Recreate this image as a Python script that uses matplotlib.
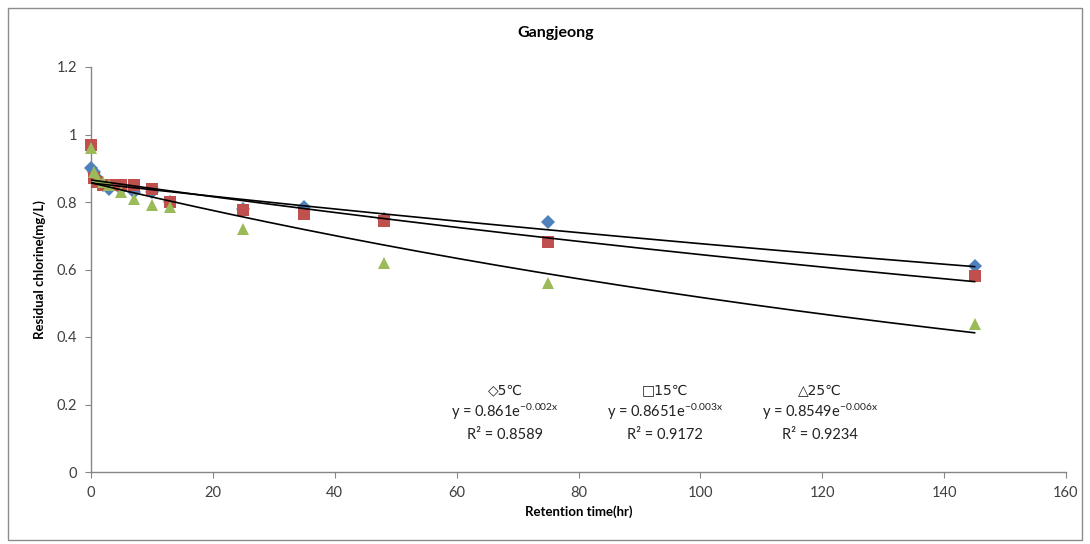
import numpy as np
import matplotlib
matplotlib.use("Agg")
import matplotlib.pyplot as plt
from matplotlib.patches import Rectangle

plt.rcParams['font.family'] = ['Lato', 'DejaVu Sans']
plt.rcParams['mathtext.default'] = 'regular'

# Data
time_hr = [0, 0.5, 1, 2, 3, 5, 7, 10, 13, 25, 35, 48, 75, 145]
chlorine_5C = [0.90, 0.89, 0.87, 0.85, 0.84, 0.84, 0.83, 0.83, 0.80, 0.78, 0.785, 0.75, 0.74, 0.61]
chlorine_15C = [0.97, 0.87, 0.86, 0.85, 0.85, 0.85, 0.85, 0.84, 0.80, 0.775, 0.765, 0.745, 0.68, 0.58]
chlorine_25C = [0.96, 0.89, 0.87, 0.86, 0.85, 0.83, 0.81, 0.79, 0.785, 0.72, np.nan, 0.62, 0.56, 0.44]

labels = ["◇5℃", "□15℃", "△25℃"]
equations = [r"y = 0.861e$^{-0.002x}$", r"y = 0.8651e$^{-0.003x}$", r"y = 0.8549e$^{-0.006x}$"]
r2_texts = ["R² = 0.8589", "R² = 0.9172", "R² = 0.9234"]

x_ticks = [0, 20, 40, 60, 80, 100, 120, 140, 160]
y_ticks = [0, 0.2, 0.4, 0.6, 0.8, 1.0, 1.2]
y_ticklabels = ["0", "0.2", "0.4", "0.6", "0.8", "1", "1.2"]

W, H = 1090, 544
fig = plt.figure(figsize=(W / 100, H / 100), dpi=100)
fig.patch.set_facecolor('white')
fig.add_artist(Rectangle((8 / W, 4 / H), 1074 / W, (H - 12) / H, transform=fig.transFigure,
                         fill=False, edgecolor='#8c8c8c', linewidth=1.0))

ax = fig.add_axes([91 / W, 1 - 472 / H, (1066 - 91) / W, (472 - 67) / H])

series = [
    (chlorine_5C, 'D', '#4F81BD', 7),
    (chlorine_15C, 's', '#C0504D', 9),
    (chlorine_25C, '^', '#9BBB59', 9),
]

t = np.array(time_hr, dtype=float)
for vals, marker, color, ms in series:
    v = np.array(vals, dtype=float)
    ax.plot(t, v, linestyle='none', marker=marker, color=color, markersize=ms,
            markeredgewidth=0, zorder=3, clip_on=False)

for vals, marker, color, ms in series:
    v = np.array(vals, dtype=float)
    m = ~np.isnan(v)
    b, lna = np.polyfit(t[m], np.log(v[m]), 1)
    xs = np.linspace(0, max(time_hr), 300)
    ax.plot(xs, np.exp(lna) * np.exp(b * xs), color='black', linewidth=1.2, zorder=4)

ax.set_xlim(0, 160)
ax.set_ylim(0, 1.2)
ax.set_xticks(x_ticks)
ax.set_xticklabels([str(v) for v in x_ticks])
ax.set_yticks(y_ticks)
ax.set_yticklabels(y_ticklabels)

for s in ['top', 'right']:
    ax.spines[s].set_visible(False)
for s in ['left', 'bottom']:
    ax.spines[s].set_color('#868686')
    ax.spines[s].set_linewidth(1.0)
ax.tick_params(axis='both', direction='out', length=4, color='#868686',
               labelsize=10.5, labelcolor='#404040', pad=6)

ax.set_xlabel("Retention time(hr)", fontsize=9.5, fontweight='bold', labelpad=4)
ax.set_ylabel("Residual chlorine(mg/L)", fontsize=9.5, fontweight='bold', labelpad=8)
fig.text(556 / W, 1 - 33 / H, "Gangjeong", ha='center', va='center', fontsize=11.5,
         fontweight='bold')

centers = [505, 665, 820]
for cx, lab, eq, r2 in zip(centers, labels, equations, r2_texts):
    fig.text(cx / W, 1 - 390 / H, lab, ha='center', va='center', fontsize=10,
             color='#222222', family=['DejaVu Sans'])
    fig.text(cx / W, 1 - 412 / H, eq, ha='center', va='center', fontsize=10.5,
             color='#222222')
    fig.text(cx / W, 1 - 435 / H, r2, ha='center', va='center', fontsize=10.5,
             color='#222222')

fig.savefig("out.png", dpi=100, facecolor='white')
